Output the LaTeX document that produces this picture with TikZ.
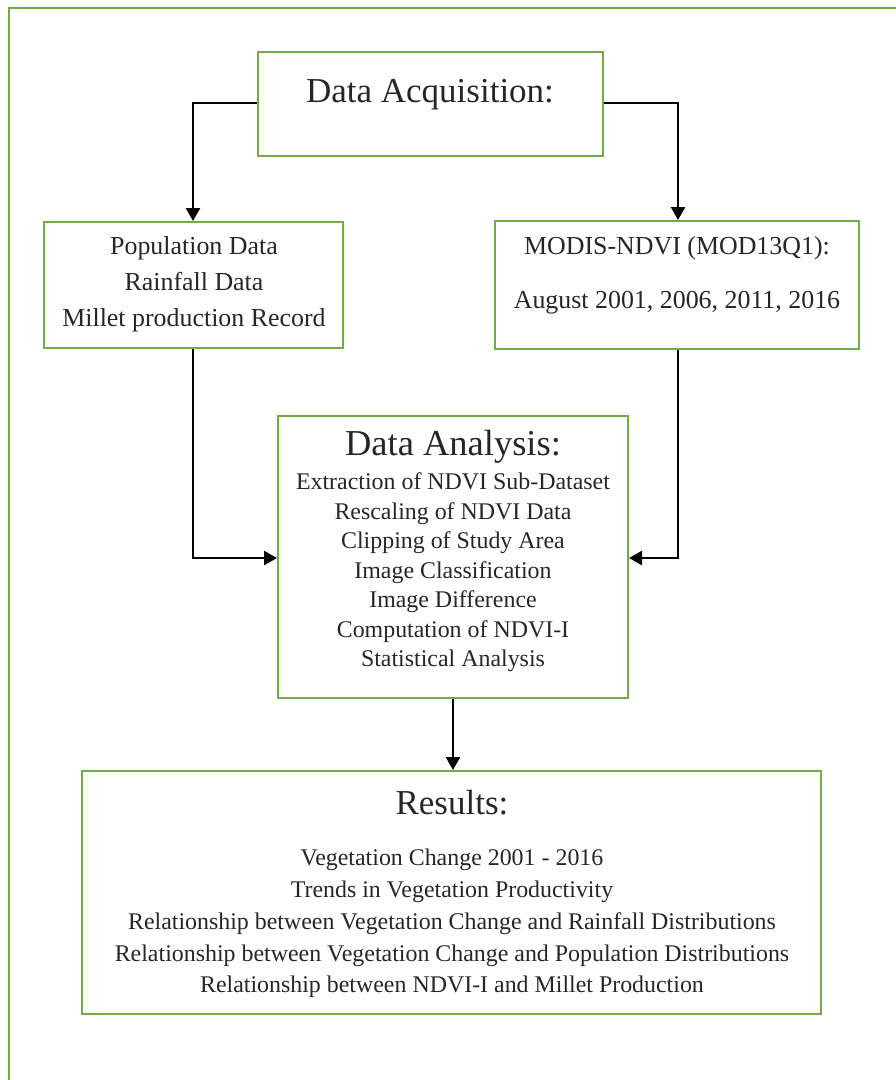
\documentclass[tikz,border=0pt]{standalone}
\usepackage{fontspec}
\setmainfont{Liberation Serif}
\usetikzlibrary{arrows.meta}
\definecolor{boxgreen}{RGB}{112,173,71}
\tikzset{
  box/.style={draw=boxgreen, line width=2pt, rectangle, inner sep=0pt},
  txt/.style={inner sep=0pt, align=center, text=black!85},
  conn/.style={draw=black, line width=2.5pt, -{Triangle[length=13pt,width=14pt]}},
}
\begin{document}
\begin{tikzpicture}[x=1pt,y=-1pt]
\useasboundingbox (0,0) rectangle (896,1080);
\draw[boxgreen, line width=2.2pt] (9,1085) -- (9,8) -- (900,8);
% boxes
\node[box, minimum width=345pt, minimum height=104pt] (acq) at (430.5,104) {};
\node[box, minimum width=299pt, minimum height=126pt] (pop) at (193.5,285) {};
\node[box, minimum width=364pt, minimum height=128pt] (modis) at (677,285) {};
\node[box, minimum width=350pt, minimum height=282pt] (ana) at (453,557) {};
\node[box, minimum width=739pt, minimum height=243pt] (res) at (451.5,892.5) {};
% texts
\node[txt, font=\fontsize{35}{40}\selectfont] (tacq) at (430,95) {Data Acquisition:};
\node[txt, font=\fontsize{25.9}{36}\selectfont] (tpop) at (194,284) {Population Data\\Rainfall Data\\Millet production Record};
\node[txt, font=\fontsize{25.9}{54}\selectfont] (tmod) at (677,275) {MODIS-NDVI (MOD13Q1):\\August 2001, 2006, 2011, 2016};
\node[txt, font=\fontsize{36.5}{40}\selectfont] (tana) at (453,447) {Data Analysis:};
\node[txt, font=\fontsize{23.9}{29.5}\selectfont] (tanai) at (453,572.5) {Extraction of NDVI Sub-Dataset\\Rescaling of NDVI Data\\Clipping of Study Area\\Image Classification\\Image Difference\\Computation of NDVI-I\\Statistical Analysis};
\node[txt, font=\fontsize{35}{40}\selectfont] (tres) at (452,803) {Results:};
\node[txt, font=\fontsize{23.9}{31.75}\selectfont] (tresi) at (452,923.5) {Vegetation Change 2001 - 2016\\Trends in Vegetation Productivity\\Relationship between Vegetation Change and Rainfall Distributions\\Relationship between Vegetation Change and Population Distributions\\Relationship between NDVI-I and Millet Production};
% connectors
\draw[conn] (acq.west |- 0,103) -| (pop.north -| 193,0);
\draw[conn] (acq.east |- 0,103) -| (modis.north -| 678,0);
\draw[conn] (pop.south -| 193,0) |- (ana.west |- 0,558);
\draw[conn] (modis.south -| 678,0) |- (ana.east |- 0,558);
\draw[conn] (ana.south) -- (res.north -| ana.south);
\end{tikzpicture}
\end{document}
